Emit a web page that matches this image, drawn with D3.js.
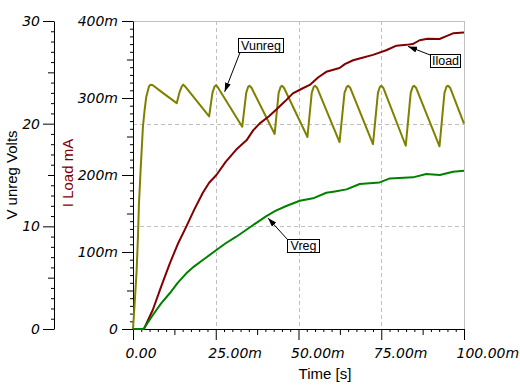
<!DOCTYPE html>
<html>
<head>
<meta charset="utf-8">
<script src="https://cdn.jsdelivr.net/npm/d3@7"></script>
<style>
  body { margin: 0; background: #fff; }
  svg { display: block; }
</style>
</head>
<body>
<div id="chart-area"></div>
<script>
// time in ms
var vunregTime  = [0, 0.5, 1.1, 1.5, 1.8, 2.3, 3.0, 3.5, 4.0, 4.8, 5.3, 6.0, 8.6, 13.2,
                   14.1, 14.7, 15.2, 15.8, 23.0, 24.0, 24.6, 25.1, 25.7, 33.0, 34.2, 34.8, 35.2, 35.8,
                   42.8, 44.0, 44.6, 45.0, 45.6, 52.7, 54.0, 54.6, 55.0, 55.6, 62.4, 63.9, 64.6, 65.0, 65.6,
                   72.5, 74.0, 74.6, 75.0, 75.6, 82.4, 83.9, 84.5, 84.9, 85.5, 92.6, 94.1, 94.7, 95.2, 95.8, 100];
var vunregVolts = [0, 2.5, 5.7, 9.0, 12.2, 15.5, 19.7, 21.3, 22.6, 23.6, 23.8, 23.75, 23.1, 22.0,
                   23.1, 23.6, 23.8, 23.6, 20.7, 23.0, 23.6, 23.75, 23.5, 19.7, 23.0, 23.6, 23.7, 23.5,
                   19.0, 23.0, 23.6, 23.7, 23.5, 18.7, 23.0, 23.6, 23.7, 23.5, 18.2, 23.0, 23.6, 23.7, 23.5,
                   18.0, 23.0, 23.6, 23.7, 23.5, 17.85, 23.0, 23.6, 23.7, 23.5, 17.8, 23.0, 23.6, 23.7, 23.5, 20.0];

var iloadTime = [0, 3.3, 6.0, 8.5, 11.1, 13.5, 16.1, 18.5, 21.1, 23.0, 25.2, 28.0, 31.2, 34.3, 36.3, 38.3,
                 41.0, 43.3, 46.0, 48.3, 51.0, 53.4, 56.0, 58.4, 62.4, 64.0, 66.5, 69.0, 72.5, 76.5, 79.6,
                 82.6, 84.5, 86.6, 89.0, 92.6, 94.5, 96.7, 100];
var iloadMilliamps = [0, 0, 25, 55, 85, 110, 133, 155, 177, 190, 200, 217, 233, 245, 258, 267,
                      276, 285, 296, 306, 312, 317, 327, 334, 339, 344, 349, 352, 356, 362, 368,
                      369, 370, 375, 377, 376.6, 380, 384, 385];

var vregTime  = [0, 3.2, 6.0, 8.5, 11.1, 13.5, 16.1, 18.5, 21.1, 25.2, 28.0, 31.2, 33.5, 36.3, 40.3, 43.0,
                 46.3, 50.4, 54.4, 58.4, 61.0, 64.5, 68.5, 74.5, 77.6, 84.6, 88.6, 92.7, 96.7, 100];
var vregVolts = [0, 0, 1.36, 2.5, 3.48, 4.5, 5.42, 6.1, 6.72, 7.69, 8.35, 8.99, 9.5, 10.13, 11.0, 11.5,
                 11.98, 12.49, 12.73, 13.27, 13.4, 13.6, 14.12, 14.28, 14.67, 14.77, 15.1, 15.0, 15.32, 15.42];

var timeTicks = [0, 25, 50, 75, 100];
var timeTickLabels = ["0.00", "25.00m", "50.00m", "75.00m", "100.00m"];
var voltTicks = [0, 10, 20, 30];
var voltTickLabels = ["0", "10", "20", "30"];
var currentTicks = [0, 100, 200, 300, 400];
var currentTickLabels = ["0", "100m", "200m", "300m", "400m"];

var noteText  = ["Vunreg", "Iload", "Vreg"];
var noteTime  = [27.7, 83.1, 40.8];
var noteValue = [23.1, 367, 10.8];
var noteAxis  = ["V", "I", "V"];

var plotLeft = 133, plotRight = 464, plotTop = 21, plotBottom = 329;
var tickFont = "'DejaVu Sans', sans-serif";
var titleFont = "'Liberation Sans', Arial, sans-serif";

var svg = d3.select("#chart-area")
  .append("svg")
  .attr("width", 520)
  .attr("height", 390);

svg.append("rect").attr("width", 520).attr("height", 390).attr("fill", "#fff");

var x = d3.scaleLinear().domain([0, 100]).range([plotLeft, plotRight]);
var yV = d3.scaleLinear().domain([0, 30]).range([plotBottom, plotTop]);
var yI = d3.scaleLinear().domain([0, 400]).range([plotBottom, plotTop]);

// grid
var grid = svg.append("g").attr("stroke", "#c0c0c0").attr("stroke-width", 1);
grid.selectAll(".vg").data([25, 50, 75]).enter().append("line")
  .attr("x1", d => Math.round(x(d)) + 0.5).attr("x2", d => Math.round(x(d)) + 0.5)
  .attr("y1", plotTop).attr("y2", plotBottom)
  .attr("stroke-dasharray", "4,3");
grid.selectAll(".hg").data([10, 20]).enter().append("line")
  .attr("x1", plotLeft).attr("x2", plotRight)
  .attr("y1", d => Math.round(yV(d)) + 0.5).attr("y2", d => Math.round(yV(d)) + 0.5)
  .attr("stroke-dasharray", "4,3");
grid.append("line").attr("x1", plotLeft).attr("x2", plotRight + 0.5)
  .attr("y1", plotTop + 0.5).attr("y2", plotTop + 0.5);
grid.append("line").attr("x1", plotRight + 0.5).attr("x2", plotRight + 0.5)
  .attr("y1", plotTop).attr("y2", plotBottom);

// axes: minor / medium / major tick levels
function tickLevels(maxV, minorStep, midStep, majorStep) {
  var all = d3.range(0, maxV + minorStep / 2, minorStep).map(v => +v.toFixed(4));
  var isMul = (v, s) => Math.abs(v / s - Math.round(v / s)) < 1e-6;
  return {
    minor: all.filter(v => !isMul(v, midStep)),
    mid: all.filter(v => isMul(v, midStep) && !isMul(v, majorStep))
  };
}

function styleLabels(g, size) {
  g.selectAll("text")
    .style("font-family", tickFont)
    .style("font-size", size + "px")
    .style("font-style", "oblique")
    .attr("fill", "#000");
}

// left volts axis
var vt = tickLevels(30, 1, 5, 10);
var gV = svg.append("g").attr("transform", "translate(54,0)");
gV.append("g").call(d3.axisLeft(yV).tickValues(vt.minor).tickSize(3).tickSizeOuter(0).tickFormat(""));
gV.append("g").call(d3.axisLeft(yV).tickValues(vt.mid).tickSize(6).tickSizeOuter(0).tickFormat(""))
  .select(".domain").remove();
var gVmaj = gV.append("g").call(d3.axisLeft(yV).tickValues(voltTicks).tickSize(11).tickSizeOuter(0)
  .tickPadding(3).tickFormat((d, i) => voltTickLabels[i]));
gVmaj.select(".domain").remove();
styleLabels(gVmaj, 14);

// right current axis
var it = tickLevels(400, 10, 50, 100);
var gI = svg.append("g").attr("transform", "translate(" + plotLeft + ",0)");
gI.append("g").call(d3.axisLeft(yI).tickValues(it.minor).tickSize(3).tickSizeOuter(0).tickFormat(""));
gI.append("g").call(d3.axisLeft(yI).tickValues(it.mid).tickSize(6).tickSizeOuter(0).tickFormat(""))
  .select(".domain").remove();
var gImaj = gI.append("g").call(d3.axisLeft(yI).tickValues(currentTicks).tickSize(11).tickSizeOuter(0)
  .tickPadding(4).tickFormat((d, i) => currentTickLabels[i]));
gImaj.select(".domain").remove();
styleLabels(gImaj, 14);

// time axis
var tt = tickLevels(100, 2.5, 12.5, 25);
var gT = svg.append("g").attr("transform", "translate(0," + plotBottom + ")");
gT.append("g").call(d3.axisBottom(x).tickValues(tt.minor).tickSize(3).tickSizeOuter(0).tickFormat(""));
gT.append("g").call(d3.axisBottom(x).tickValues(tt.mid).tickSize(6).tickSizeOuter(0).tickFormat(""))
  .select(".domain").remove();
var gTmaj = gT.append("g").call(d3.axisBottom(x).tickValues(timeTicks).tickSize(11).tickSizeOuter(0)
  .tickPadding(8).tickFormat((d, i) => timeTickLabels[i]));
gTmaj.select(".domain").remove();
styleLabels(gTmaj, 14);
gTmaj.selectAll("text").attr("text-anchor", "start").attr("x", -8);

// titles
svg.append("text")
  .attr("x", 325).attr("y", 379)
  .attr("text-anchor", "middle")
  .style("font-family", titleFont).style("font-size", "15px")
  .text("Time [s]");

svg.append("text")
  .attr("transform", "translate(17,175) rotate(-90)")
  .attr("text-anchor", "middle")
  .style("font-family", titleFont).style("font-size", "15px")
  .text("V unreg Volts");

svg.append("text")
  .attr("transform", "translate(72.5,173) rotate(-90)")
  .attr("text-anchor", "middle")
  .attr("fill", "#800000")
  .style("font-family", titleFont).style("font-size", "15px")
  .text("I Load mA");

// curves
function drawSeries(times, vals, yScale, color) {
  var pts = times.map((t, i) => [t, vals[i]]);
  var line = d3.line().x(d => x(d[0])).y(d => yScale(d[1]));
  svg.append("path")
    .datum(pts)
    .attr("d", line)
    .attr("fill", "none")
    .attr("stroke", color)
    .attr("stroke-width", 2)
    .attr("stroke-linejoin", "round");
}

drawSeries(vunregTime, vunregVolts, yV, "#808000");
drawSeries(iloadTime, iloadMilliamps, yI, "#800000");
drawSeries(vregTime, vregVolts, yV, "#008000");

// annotation callouts
svg.append("defs").append("marker")
  .attr("id", "head")
  .attr("markerUnits", "userSpaceOnUse")
  .attr("markerWidth", 10).attr("markerHeight", 6)
  .attr("refX", 9).attr("refY", 3)
  .attr("orient", "auto")
  .append("path").attr("d", "M0,0L9,3L0,6Z").attr("fill", "#000");

// box corner offset from the pointed-at spot, and box size
var boxOffset = [[13, -54], [22, 8], [19, 21]];
var boxSize = [[45, 14], [30, 13], [32, 13]];
var lineStart = [[1.5, 14], [1, 1], [0, 0]];

noteText.forEach(function (txt, i) {
  var ys = noteAxis[i] === "V" ? yV : yI;
  var px = x(noteTime[i]), py = ys(noteValue[i]);
  var bx = Math.round(px + boxOffset[i][0]) + 0.5;
  var by = Math.round(py + boxOffset[i][1]) + 0.5;
  svg.append("line")
    .attr("x1", bx + lineStart[i][0]).attr("y1", by + lineStart[i][1])
    .attr("x2", px).attr("y2", py)
    .attr("stroke", "#000").attr("stroke-width", 1)
    .attr("marker-end", "url(#head)");
  svg.append("rect")
    .attr("x", bx).attr("y", by)
    .attr("width", boxSize[i][0]).attr("height", boxSize[i][1])
    .attr("fill", "#fff").attr("stroke", "#000");
  svg.append("text")
    .attr("x", bx + boxSize[i][0] / 2).attr("y", by + boxSize[i][1] - 3)
    .attr("text-anchor", "middle")
    .style("font-family", titleFont).style("font-size", "12.5px")
    .text(txt);
});
</script>
</body>
</html>
